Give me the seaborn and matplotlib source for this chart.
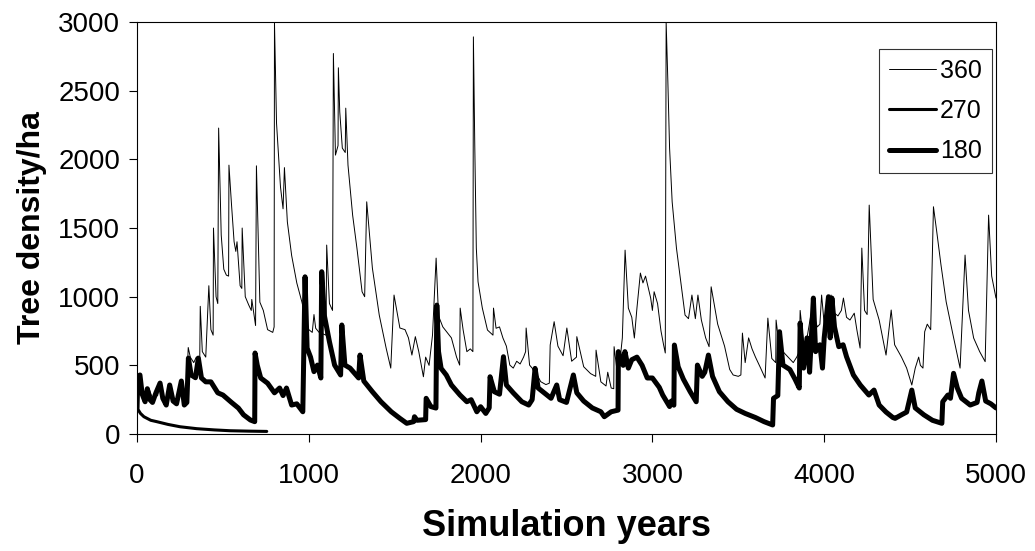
import matplotlib
matplotlib.use("Agg")
import matplotlib.pyplot as plt
import seaborn as sns
import pandas as pd

# ---------------- data ----------------
years_360 = [0, 8, 20, 45, 70, 90, 120, 135, 150, 175, 195, 215, 240, 255, 270, 285, 298, 310, 330, 345,
             365, 368, 380, 400, 418, 430, 443, 445, 460, 470, 475, 490, 505, 520, 533, 535, 550, 565, 575, 582,
             600, 610, 612, 630, 650, 665, 668, 690, 695, 715, 735, 760, 790, 798, 800, 812, 835, 850, 858, 875,
             900, 930, 960, 985, 1000, 1020, 1030, 1040, 1060, 1100, 1104, 1120, 1138, 1143, 1155, 1170, 1172, 1180, 1195, 1212,
             1215, 1228, 1255, 1280, 1310, 1325, 1337, 1370, 1410, 1450, 1477, 1496, 1530, 1560, 1580, 1600, 1620, 1640, 1667, 1680,
             1700, 1720, 1741, 1755, 1780, 1805, 1830, 1860, 1878, 1881, 1898, 1920, 1940, 1955, 1958, 1966, 1975, 1985, 2010, 2040,
             2072, 2075, 2090, 2110, 2130, 2150, 2170, 2190, 2210, 2230, 2250, 2262, 2265, 2285, 2320, 2350, 2380, 2400, 2405, 2428,
             2450, 2480, 2502, 2530, 2558, 2560, 2600, 2640, 2670, 2672, 2700, 2730, 2740, 2760, 2775, 2777, 2800, 2825, 2841, 2860,
             2880, 2895, 2910, 2930, 2945, 2960, 2990, 3000, 3010, 3030, 3050, 3065, 3075, 3080, 3090, 3100, 3115, 3140, 3170, 3190,
             3210, 3230, 3250, 3265, 3285, 3310, 3330, 3342, 3380, 3420, 3450, 3470, 3500, 3515, 3524, 3540, 3560, 3580, 3600, 3630,
             3656, 3672, 3695, 3718, 3720, 3740, 3760, 3790, 3820, 3840, 3855, 3860, 3880, 3900, 3920, 3940, 3960, 3975, 3985, 4000,
             4020, 4040, 4060, 4080, 4100, 4112, 4130, 4150, 4175, 4190, 4209, 4219, 4235, 4250, 4262, 4285, 4320, 4360, 4390, 4410,
             4450, 4480, 4510, 4530, 4550, 4560, 4575, 4585, 4600, 4620, 4636, 4655, 4680, 4710, 4750, 4791, 4820, 4840, 4870, 4905,
             4937, 4957, 4975, 5000]
density_360 = [300, 430, 300, 250, 330, 260, 280, 370, 250, 220, 360, 250, 240, 390, 260, 230, 630, 560, 520, 560,
               540, 930, 600, 560, 1080, 760, 720, 1500, 1000, 950, 2228, 1450, 1200, 1157, 1150, 1958, 1670, 1400, 1330, 1400,
               1080, 1060, 1500, 1000, 940, 900, 980, 790, 1953, 960, 900, 760, 740, 780, 3000, 2264, 1800, 1640, 1940, 1545,
               1300, 1100, 960, 820, 760, 740, 870, 770, 740, 720, 1376, 950, 900, 2771, 2031, 2100, 2667, 2347, 2082, 2050,
               2373, 1958, 1594, 1354, 1036, 1000, 1691, 1208, 866, 626, 480, 1012, 772, 760, 700, 575, 709, 600, 417, 560,
               500, 721, 1281, 860, 780, 740, 700, 560, 502, 917, 760, 600, 620, 600, 2892, 2100, 1354, 1109, 917, 757,
               720, 917, 770, 780, 699, 640, 502, 480, 530, 510, 560, 600, 772, 502, 450, 381, 360, 370, 648, 818,
               640, 570, 772, 530, 560, 709, 490, 440, 420, 611, 380, 350, 450, 335, 330, 636, 400, 700, 1339, 917,
               850, 699, 917, 1172, 1100, 1150, 990, 900, 1036, 950, 750, 650, 590, 3000, 2565, 2082, 1691, 1354, 1063, 866,
               840, 1012, 840, 1012, 830, 700, 636, 1072, 800, 640, 470, 430, 420, 430, 735, 520, 700, 620, 560, 480,
               408, 844, 550, 520, 830, 620, 600, 560, 520, 560, 600, 900, 660, 700, 850, 860, 780, 800, 1012, 800,
               900, 1012, 880, 860, 900, 990, 850, 830, 880, 760, 626, 1354, 900, 870, 1667, 980, 830, 575, 903, 650,
               560, 480, 357, 480, 560, 500, 480, 745, 800, 760, 1655, 1475, 1230, 963, 721, 480, 1303, 900, 699, 600,
               527, 1594, 1150, 990]

years_270 = [0, 20, 40, 80, 115, 180, 250, 347, 450, 541, 650, 755]
density_270 = [190, 150, 126, 100, 90, 70, 53, 39, 30, 24, 21, 19]

years_180 = [0, 5, 17, 30, 47, 60, 75, 90, 110, 134, 150, 170, 190, 210, 230, 258, 275, 290, 299, 315,
             340, 357, 375, 400, 430, 470, 500, 550, 590, 620, 660, 685, 687, 700, 720, 760, 800, 830, 850, 870,
             900, 930, 965, 978, 990, 1010, 1030, 1050, 1070, 1075, 1090, 1120, 1150, 1185, 1192, 1210, 1240, 1290, 1298, 1320,
             1370, 1420, 1480, 1530, 1570, 1610, 1615, 1630, 1680, 1683, 1710, 1740, 1745, 1755, 1770, 1800, 1830, 1880, 1920, 1945,
             1978, 2000, 2030, 2050, 2055, 2080, 2110, 2133, 2150, 2190, 2240, 2280, 2300, 2317, 2335, 2370, 2410, 2443, 2460, 2500,
             2540, 2560, 2600, 2650, 2700, 2720, 2760, 2800, 2802, 2830, 2840, 2860, 2880, 2910, 2940, 2970, 3000, 3040, 3060, 3100,
             3110, 3125, 3128, 3150, 3180, 3220, 3255, 3262, 3290, 3305, 3326, 3350, 3390, 3440, 3490, 3540, 3600, 3650, 3700, 3705,
             3730, 3740, 3760, 3800, 3830, 3855, 3860, 3880, 3900, 3915, 3937, 3950, 3975, 3990, 4000, 4025, 4035, 4045, 4060, 4085,
             4110, 4130, 4170, 4210, 4260, 4290, 4320, 4360, 4400, 4413, 4450, 4480, 4510, 4530, 4580, 4630, 4685, 4690, 4720, 4735,
             4753, 4775, 4800, 4850, 4890, 4900, 4918, 4940, 4970, 5000]
density_180 = [190, 420, 430, 290, 235, 330, 250, 230, 300, 371, 260, 211, 357, 240, 220, 386, 211, 230, 553, 430,
               410, 553, 408, 380, 380, 300, 284, 230, 189, 140, 102, 90, 590, 500, 408, 370, 300, 335, 280, 335,
               211, 220, 162, 1145, 626, 560, 454, 502, 408, 1182, 866, 672, 502, 430, 794, 502, 480, 408, 575, 386,
               308, 235, 162, 114, 78, 90, 126, 100, 105, 260, 200, 189, 939, 600, 478, 430, 357, 284, 235, 250,
               162, 199, 150, 190, 417, 308, 290, 563, 357, 300, 235, 211, 250, 478, 335, 300, 260, 357, 250, 230,
               430, 300, 240, 190, 162, 126, 162, 174, 600, 500, 600, 480, 541, 560, 500, 408, 408, 340, 284, 200,
               240, 210, 648, 490, 400, 308, 235, 502, 420, 450, 575, 420, 308, 235, 180, 150, 120, 90, 66, 260,
               280, 745, 502, 470, 400, 335, 808, 480, 700, 450, 990, 600, 650, 480, 700, 1000, 700, 990, 780, 636,
               650, 563, 430, 357, 284, 320, 211, 160, 120, 114, 140, 160, 320, 190, 140, 100, 78, 235, 284, 260,
               442, 335, 260, 211, 230, 300, 386, 240, 220, 190]

series_labels = ["360", "270", "180"]
x_ticks = [0, 1000, 2000, 3000, 4000, 5000]
y_ticks = [0, 500, 1000, 1500, 2000, 2500, 3000]

# ---------------- plot ----------------
sns.set_style("ticks")
plt.rcParams["font.family"] = ["Liberation Sans", "DejaVu Sans"]
plt.rcParams["text.color"] = "black"
plt.rcParams["axes.labelcolor"] = "black"
plt.rcParams["xtick.color"] = "black"
plt.rcParams["ytick.color"] = "black"

fig = plt.figure(figsize=(10.35, 5.51), dpi=100)
ax = fig.add_axes([0.1324, 0.2123, 0.8299, 0.7477])

df360 = pd.DataFrame({"year": years_360, "density": density_360})
df270 = pd.DataFrame({"year": years_270, "density": density_270})
df180 = pd.DataFrame({"year": years_180, "density": density_180})

sns.lineplot(data=df360, x="year", y="density", ax=ax, color="black", linewidth=0.7,
             estimator=None, sort=False, label=series_labels[0])
sns.lineplot(data=df270, x="year", y="density", ax=ax, color="black", linewidth=2.2,
             estimator=None, sort=False, label=series_labels[1])
sns.lineplot(data=df180, x="year", y="density", ax=ax, color="black", linewidth=3.6,
             estimator=None, sort=False, label=series_labels[2])

ax.set_xlim(0, 5000)
ax.set_ylim(0, 3000)
ax.set_xticks(x_ticks)
ax.set_yticks(y_ticks)
ax.tick_params(axis="both", direction="out", length=6, width=0.8, color="black",
               labelsize=20, labelcolor="black")
ax.tick_params(axis="x", pad=15)
ax.tick_params(axis="y", pad=6)
for sp in ax.spines.values():
    sp.set_visible(True)
    sp.set_linewidth(0.8)
    sp.set_color("black")

ax.set_xlabel("Simulation years", fontsize=26, fontweight="bold", labelpad=14, color="black")
ax.set_ylabel("Tree density/ha", fontsize=23, fontweight="bold", labelpad=8, color="black")

leg = ax.legend(loc="upper right", bbox_to_anchor=(0.995, 0.935), fontsize=18, frameon=True,
                fancybox=False, edgecolor="black", handlelength=1.9, handletextpad=0.15,
                labelspacing=0.65, borderpad=0.4, borderaxespad=0.0)
leg.get_frame().set_linewidth(0.8)
for t in leg.get_texts():
    t.set_color("black")

fig.savefig("out.png", dpi=100, facecolor="white")
